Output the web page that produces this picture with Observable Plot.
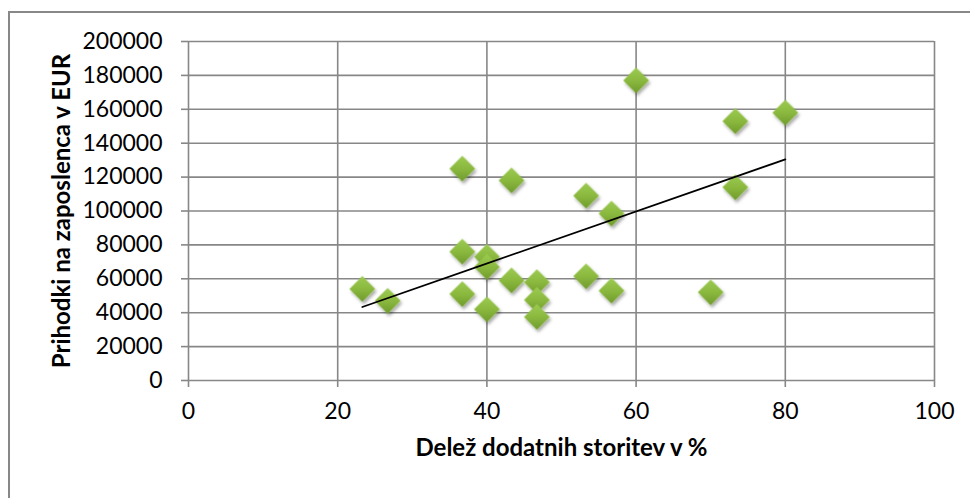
<!DOCTYPE html>
<html>
<head>
<meta charset="utf-8">
<script src="https://cdn.jsdelivr.net/npm/d3@7"></script>
<script src="https://cdn.jsdelivr.net/npm/@observablehq/plot@0.6"></script>
<style>
  html, body { margin: 0; padding: 0; background: #fff; }
  #wrap { position: relative; width: 970px; height: 498px; overflow: hidden; }
  #wrap svg { position: absolute; left: 0; top: 0; }
  #frame { position: absolute; left: 8px; top: 11px; width: 1000px; height: 600px;
           border-left: 2px solid #888; border-top: 2px solid #888; box-sizing: border-box;
           pointer-events: none; }
</style>
</head>
<body>
<div id="wrap"></div>
<script>
// Share of additional services (%) per company
const share = [23.3, 26.7, 36.7, 36.7, 36.7, 40, 40, 40, 43.3, 43.3, 46.7,
               46.7, 46.7, 53.3, 53.3, 56.7, 56.7, 60, 70, 73.3, 73.3, 80];
// Revenue per employee (EUR)
const revenue = [54000, 47000, 125000, 76000, 51000, 73000, 67000, 42000, 118000, 59000, 58000,
                 47500, 37500, 109000, 61500, 98500, 53000, 177000, 52000, 153000, 114000, 158000];

const xTicks = [0, 20, 40, 60, 80, 100];
const yTicks = [0, 20000, 40000, 60000, 80000, 100000, 120000, 140000, 160000, 180000, 200000];

const xTitle = "Delež dodatnih storitev v %";
const yTitle = "Prihodki na zaposlenca v EUR";

const points = share.map((s, i) => ({share: s, revenue: revenue[i]}));

const gridColor = "#878787";

const chart = Plot.plot({
  width: 970,
  height: 498,
  marginLeft: 188,
  marginRight: 36,
  marginTop: 41,
  marginBottom: 118,
  x: {domain: [0, 100]},
  y: {domain: [0, 200000]},
  style: {fontFamily: "Lato, 'Open Sans', sans-serif", fontSize: "23px", color: "#000", background: "transparent"},
  marks: [
    Plot.gridX(xTicks, {stroke: gridColor, strokeOpacity: 1, strokeWidth: 1.6}),
    Plot.gridY(yTicks, {stroke: gridColor, strokeOpacity: 1, strokeWidth: 1.6}),
    Plot.axisX(xTicks, {tickSize: 7, tickPadding: 15, stroke: gridColor, strokeWidth: 1.6, label: null, fontSize: 23}),
    Plot.axisY(yTicks, {tickSize: 7, tickPadding: 19, stroke: gridColor, strokeWidth: 1.6, label: null, fontSize: 23,
                        tickFormat: d => String(d)}),
    Plot.dot(points, {x: "share", y: "revenue", symbol: "diamond2", r: 11.6, fill: "url(#diamondFill)", stroke: "none"}),
    Plot.linearRegressionY(points, {x: "share", y: "revenue", stroke: "#000", strokeWidth: 1.8, ci: 0}),
    Plot.text([xTitle], {text: d => d, frameAnchor: "bottom", textAnchor: "middle", dy: 75,
                         fontWeight: "bold", fontSize: 24}),
    Plot.text([yTitle], {text: d => d, frameAnchor: "left", textAnchor: "middle", dx: -126, rotate: -90,
                         fontWeight: "bold", fontSize: 24})
  ]
});

// Bevelled green fill and soft drop shadow for the diamond markers
const svg = d3.select(chart);
const defs = svg.insert("defs", ":first-child");
const grad = defs.append("linearGradient").attr("id", "diamondFill")
  .attr("x1", 0).attr("y1", 0).attr("x2", 0).attr("y2", 1);
grad.append("stop").attr("offset", "0%").attr("stop-color", "#9ccb52");
grad.append("stop").attr("offset", "50%").attr("stop-color", "#8bb93f");
grad.append("stop").attr("offset", "100%").attr("stop-color", "#6f9b2b");
const f = defs.append("filter").attr("id", "diamondShadow")
  .attr("x", "-30%").attr("y", "-30%").attr("width", "170%").attr("height", "170%");
f.append("feDropShadow").attr("dx", 1.5).attr("dy", 2.5).attr("stdDeviation", 1.6)
  .attr("flood-color", "#000").attr("flood-opacity", 0.35);
svg.selectAll("g[aria-label='dot']").attr("filter", "url(#diamondShadow)");

const wrap = document.getElementById("wrap");
wrap.appendChild(chart);
const frame = document.createElement("div");
frame.id = "frame";
wrap.appendChild(frame);
</script>
</body>
</html>
